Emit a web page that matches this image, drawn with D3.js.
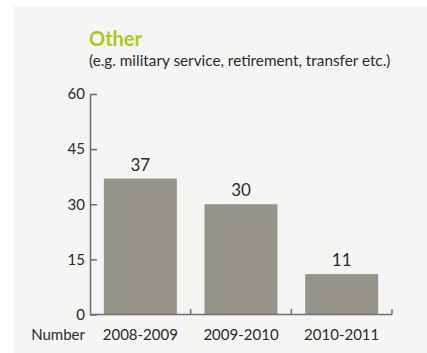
<!DOCTYPE html>
<html><head><meta charset="utf-8">
<script src="https://cdn.jsdelivr.net/npm/d3@7"></script>
<style>body{margin:0;background:#fff}text{font-family:Lato,sans-serif}</style></head>
<body><svg id="c" width="427" height="353"></svg>
<script>
// Leavers in the "Other" category, by academic year
const years = ["2008-2009", "2009-2010", "2010-2011"];
const counts = [37, 30, 11];
const yTicks = [0, 15, 30, 45, 60];
const title = "Other";
const subtitle = "(e.g. military service, retirement, transfer etc.)";
const unitLabel = "Number";

const svg = d3.select("#c");
const axisColor = "#6f6f6f";
const textColor = "#2a2a2a";

// panel background
svg.append("rect").attr("x", 14).attr("y", 6).attr("width", 413).attr("height", 347).attr("fill", "#f5f5f4");

svg.append("text").attr("x", 89).attr("y", 45.5)
  .attr("font-size", 20).attr("font-weight", "bold").attr("fill", "#b5c41f").text(title);
svg.append("text").attr("x", 89).attr("y", 65.5)
  .attr("font-size", 15.3).attr("fill", textColor).text(subtitle);

const x = d3.scaleBand().domain(years).range([90, 392]).paddingInner(0.275).paddingOuter(0.1375);
const y = d3.scaleLinear().domain([0, 60]).range([314.5, 94]);

// bars
svg.append("g").selectAll("rect").data(years).join("rect")
  .attr("x", d => x(d)).attr("width", x.bandwidth())
  .attr("y", (d, i) => y(counts[i])).attr("height", (d, i) => y(0) - y(counts[i]))
  .attr("fill", "#97958a");

// value labels
svg.append("g").selectAll("text").data(years).join("text")
  .attr("x", d => x(d) + x.bandwidth() / 2).attr("y", (d, i) => y(counts[i]) - 8)
  .attr("text-anchor", "middle").attr("font-size", 17).attr("fill", textColor)
  .text((d, i) => counts[i]);

// y axis: ticks point inward
const yAxis = svg.append("g").attr("transform", "translate(90,0)")
  .call(d3.axisLeft(y).tickValues(yTicks).tickSize(-7).tickSizeOuter(0).tickPadding(5));
yAxis.selectAll("path,line").attr("stroke", axisColor).attr("stroke-width", 1.5);
yAxis.selectAll("text").attr("font-size", 15).attr("fill", textColor).attr("font-family", "Lato, sans-serif");

// x axis baseline with ticks at band boundaries
const gap = x.step() * x.paddingInner() / 2;
const xAxis = svg.append("g");
xAxis.append("line").attr("x1", x.range()[0]).attr("x2", x.range()[1])
  .attr("y1", y(0)).attr("y2", y(0)).attr("stroke", axisColor).attr("stroke-width", 1.5);
xAxis.selectAll("line.tick").data(years).join("line").attr("class", "tick")
  .attr("x1", d => x(d) + x.bandwidth() + gap).attr("x2", d => x(d) + x.bandwidth() + gap)
  .attr("y1", y(0)).attr("y2", y(0) - 5.5).attr("stroke", axisColor).attr("stroke-width", 1.5);
xAxis.selectAll("text").data(years).join("text")
  .attr("x", d => x(d) + x.bandwidth() / 2).attr("y", 340)
  .attr("text-anchor", "middle").attr("font-size", 15).attr("fill", textColor).text(d => d);
svg.append("text").attr("x", 85).attr("y", 340).attr("text-anchor", "end")
  .attr("font-size", 15).attr("fill", textColor).text(unitLabel);
</script></body></html>
